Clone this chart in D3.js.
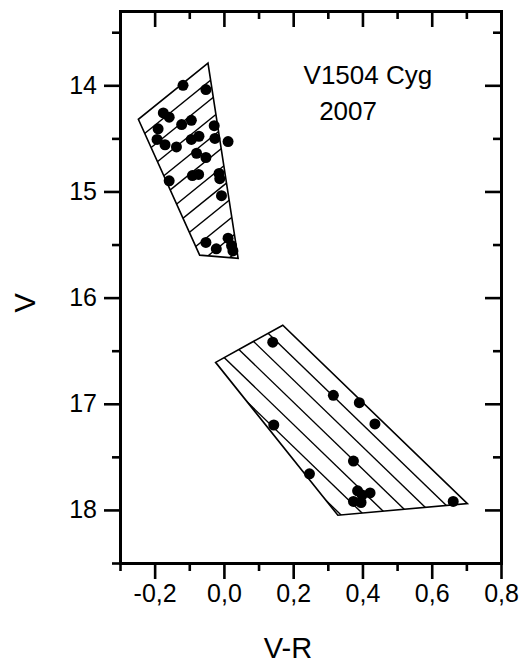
<!DOCTYPE html>
<html>
<head>
<meta charset="utf-8">
<script src="https://d3js.org/d3.v7.min.js"></script>
<style>
body { margin: 0; background: #fff; }
text { font-family: "Liberation Sans", Arial, sans-serif; fill: #000; }
</style>
</head>
<body>
<div id="my_dataviz"></div>
<script>
// observed points, V-R colour and V magnitude
var upperVR = [-0.118, -0.052, -0.175, -0.158, -0.122, -0.094, -0.19, -0.028, -0.193, -0.17, -0.137, -0.094, -0.072, -0.026, 0.012, -0.079, -0.052, -0.091, -0.073, -0.014, -0.158, -0.012, -0.007, -0.052, 0.012, -0.022, 0.022, 0.026];
var upperV  = [14.00, 14.04, 14.26, 14.30, 14.37, 14.33, 14.41, 14.38, 14.51, 14.56, 14.58, 14.51, 14.48, 14.50, 14.53, 14.64, 14.68, 14.85, 14.84, 14.83, 14.90, 14.88, 15.04, 15.48, 15.44, 15.54, 15.51, 15.56];
var lowerVR = [0.141, 0.316, 0.391, 0.436, 0.144, 0.374, 0.247, 0.386, 0.422, 0.399, 0.374, 0.396, 0.662];
var lowerV  = [16.42, 16.92, 16.99, 17.19, 17.20, 17.54, 17.66, 17.82, 17.84, 17.86, 17.92, 17.93, 17.92];

// hatched regions (corners)
var upperBoxVR = [-0.046, -0.247, -0.07, 0.041];
var upperBoxV  = [13.79, 14.32, 15.60, 15.63];
var lowerBoxVR = [0.170, -0.024, 0.329, 0.703];
var lowerBoxV  = [16.26, 16.61, 18.05, 17.94];

var xMajor = [-0.2, 0.0, 0.2, 0.4, 0.6, 0.8];
var xMinor = [-0.3, -0.1, 0.1, 0.3, 0.5, 0.7];
var yMajor = [14, 15, 16, 17, 18];
var yMinor = [13.5, 14.5, 15.5, 16.5, 17.5, 18.5];

var margin = {top: 11, right: 22, bottom: 103, left: 120},
width = 523 - margin.left - margin.right,
height = 666 - margin.top - margin.bottom;

var svg = d3.select('#my_dataviz')
.append('svg')
.attr('width', 523)
.attr('height', 666)
.append('g')
.attr('transform', 'translate(' + margin.left + ',' + margin.top + ')');

var x = d3.scaleLinear().domain([-0.3, 0.8]).range([0, width]);
var y = d3.scaleLinear().domain([13.3, 18.5]).range([0, height]);

var fmtX = function(d) { return d3.format('.1f')(d).replace('.', ',').replace('−', '-'); };

function drawAxis(axis, tr, vals, size, labels) {
  var g = svg.append('g')
  .attr('transform', tr)
  .call(axis.tickValues(vals).tickSize(size).tickSizeOuter(0));
  g.select('.domain').attr('stroke-width', 3).attr('stroke-linecap', 'square');
  g.selectAll('.tick line').attr('stroke-width', 2.6);
  if (!labels) g.selectAll('.tick text').remove();
  return g;
}

// minor ticks first, then majors with labels
drawAxis(d3.axisBottom(x), 'translate(0,' + height + ')', xMinor, 8, false);
var gx = drawAxis(d3.axisBottom(x).tickFormat(fmtX), 'translate(0,' + height + ')', xMajor, 16, true);
gx.selectAll('.tick text').attr('font-size', 25).attr('font-family', 'Liberation Sans, Arial').attr('y', 21).attr('dy', '0.71em');

drawAxis(d3.axisLeft(y), 'translate(0,0)', yMinor, 8, false);
var gy = drawAxis(d3.axisLeft(y).tickFormat(d3.format('d')), 'translate(0,0)', yMajor, 16, true);
gy.selectAll('.tick text').attr('font-size', 25).attr('font-family', 'Liberation Sans, Arial').attr('x', -23);

drawAxis(d3.axisTop(x), 'translate(0,0)', xMinor, -8, false);
drawAxis(d3.axisTop(x), 'translate(0,0)', xMajor, -16, false);
drawAxis(d3.axisRight(y), 'translate(' + width + ',0)', yMinor, -8, false);
drawAxis(d3.axisRight(y), 'translate(' + width + ',0)', yMajor, -16, false);

// axis titles
svg.append('text')
.attr('x', x(0.185))
.attr('y', height + 95)
.attr('text-anchor', 'middle')
.attr('font-size', 29)
.text('V-R');

svg.append('text')
.attr('transform', 'translate(' + (-85) + ',' + (y(16.05)) + ') rotate(-90)')
.attr('text-anchor', 'middle')
.attr('font-size', 29)
.text('V');

svg.append('text').attr('x', x(0.23)).attr('y', y(13.99)).attr('font-size', 26).text('V1504 Cyg');
svg.append('text').attr('x', x(0.275)).attr('y', y(14.33)).attr('font-size', 26).text('2007');

// hatched polygon: lines parallel to one edge, clipped to the polygon
function hatchBox(id, vr, v, edge, spacing, count) {
  var pts = vr.map(function(d, i) { return [x(d), y(v[i])]; });
  svg.append('clipPath').attr('id', id)
  .append('polygon').attr('points', pts.map(function(p) { return p.join(','); }).join(' '));

  var a = pts[edge[0]], b = pts[edge[1]];
  var len = Math.hypot(b[0] - a[0], b[1] - a[1]);
  var ux = (b[0] - a[0]) / len, uy = (b[1] - a[1]) / len;
  var nx = -uy, ny = ux;
  var cx = d3.mean(pts, function(p) { return p[0]; }), cy = d3.mean(pts, function(p) { return p[1]; });
  if ((cx - a[0]) * nx + (cy - a[1]) * ny < 0) { nx = -nx; ny = -ny; }

  var lines = d3.range(1, count + 1).map(function(k) {
    var px = a[0] + nx * k * spacing, py = a[1] + ny * k * spacing;
    return [px - ux * 600, py - uy * 600, px + ux * 600, py + uy * 600];
  });
  svg.append('g').attr('clip-path', 'url(#' + id + ')')
  .selectAll('line').data(lines).enter().append('line')
  .attr('x1', function(d) { return d[0]; }).attr('y1', function(d) { return d[1]; })
  .attr('x2', function(d) { return d[2]; }).attr('y2', function(d) { return d[3]; })
  .attr('stroke', '#000').attr('stroke-width', 1.4);

  svg.append('polygon')
  .attr('points', pts.map(function(p) { return p.join(','); }).join(' '))
  .attr('fill', 'none').attr('stroke', '#000').attr('stroke-width', 1.6);
}

hatchBox('clipUp', upperBoxVR, upperBoxV, [1, 0], 15, 12);
hatchBox('clipLow', lowerBoxVR, lowerBoxV, [0, 3], 16, 7);

function dots(vr, v) {
  svg.append('g').selectAll('circle')
  .data(vr.map(function(d, i) { return {c: d, m: v[i]}; }))
  .enter().append('circle')
  .attr('cx', function(d) { return x(d.c); })
  .attr('cy', function(d) { return y(d.m); })
  .attr('r', 5.5)
  .style('fill', '#000');
}
dots(upperVR, upperV);
dots(lowerVR, lowerV);
</script>
</body>
</html>
